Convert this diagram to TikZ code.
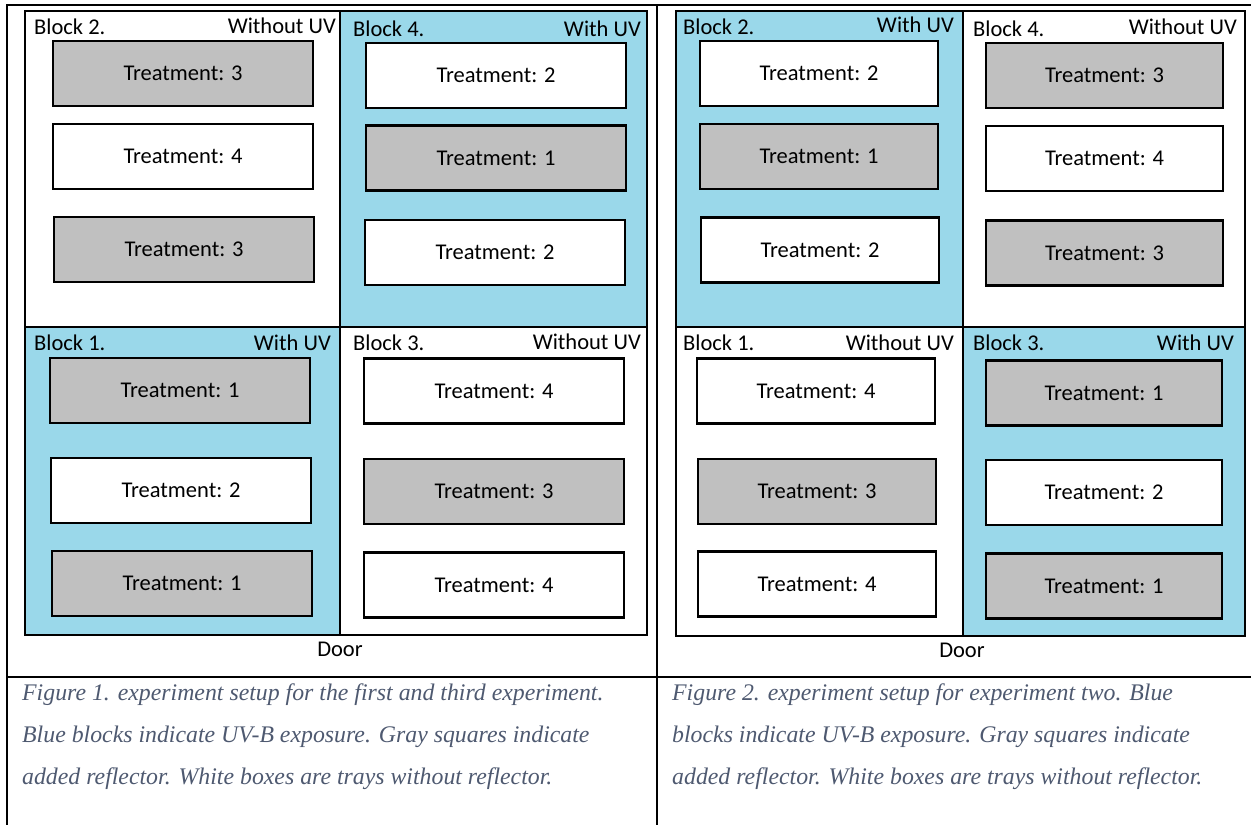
\documentclass[tikz,border=0pt]{standalone}
\usepackage{fontspec}
\setmainfont{Liberation Serif}
\newfontfamily\calib{Carlito}
\usetikzlibrary{positioning}

\definecolor{uvblue}{RGB}{154,216,234}
\definecolor{reflgray}{RGB}{192,192,192}
\definecolor{captxt}{RGB}{78,89,112}

\tikzset{
  uvblock/.style={fill=uvblue},
  frame/.style={line width=2.4pt},
  tray/.style={draw,line width=2.6pt,minimum height=65pt,inner sep=0pt,
    font=\calib\fontsize{22.5}{26}\selectfont},
  refl/.style={tray,fill=reflgray},
  plain/.style={tray,fill=white},
  blk/.style={inner sep=0pt,font=\calib\fontsize{22.5}{26}\selectfont},
  caption/.style={align=left,inner sep=0pt,text=captxt,
    font=\itshape\fontsize{23.8}{42}\selectfont}
}

\begin{document}
\begin{tikzpicture}[x=1pt,y=-1pt]
\useasboundingbox (0,0) rectangle (1251,825);

% table
\draw[line width=1.6pt]
(6,5) -- (1251,5)
(7,5) -- (7,825)
(657,5) -- (657,825)
(7,677) -- (1251,677);

% ---- first setup
\path[uvblock] (340,11) rectangle (647,327);
\path[uvblock] (25,327) rectangle (340,635);
\draw[frame] (25,11) rectangle (647,635);
\draw[frame] (340,11) -- (340,635);
\draw[frame] (25,327) -- (647,327);

\node[blk,anchor=west] (fa-b2) at (34,27) {Block 2.};
\node[blk,anchor=east] (fa-u2) at (336,26) {Without UV};
\node[blk,anchor=west] (fa-b4) at (353,29) {Block 4.};
\node[blk,anchor=east] (fa-u4) at (641,29) {With UV};
\node[blk,anchor=west] (fa-b1) at (34,343) {Block 1.};
\node[blk,anchor=east] (fa-u1) at (331,343) {With UV};
\node[blk,anchor=west] (fa-b3) at (353,343) {Block 3.};
\node[blk,anchor=east] (fa-u3) at (641,342) {Without UV};

\node[refl,minimum width=260pt] (fa-21) at (183,73.5) {Treatment: 3};
\node[plain,minimum width=260pt] (fa-22) at (183,156.5) {Treatment: 4};
\node[refl,minimum width=260pt] (fa-23) at (184,249.5) {Treatment: 3};
\node[plain,minimum width=260pt] (fa-41) at (496,75.5) {Treatment: 2};
\node[refl,minimum width=260pt] (fa-42) at (496,158) {Treatment: 1};
\node[plain,minimum width=260pt] (fa-43) at (495,252.5) {Treatment: 2};
\node[refl,minimum width=260pt] (fa-11) at (180,390.5) {Treatment: 1};
\node[plain,minimum width=260pt] (fa-12) at (181,490.5) {Treatment: 2};
\node[refl,minimum width=260pt] (fa-13) at (182,583.5) {Treatment: 1};
\node[plain,minimum width=260pt] (fa-31) at (494,391) {Treatment: 4};
\node[refl,minimum width=260pt] (fa-32) at (494,491.5) {Treatment: 3};
\node[plain,minimum width=260pt] (fa-33) at (494,585) {Treatment: 4};

\node[blk] (fa-door) at (340,649) {Door};

% ---- second setup
\path[uvblock] (676,11) rectangle (963,327);
\path[uvblock] (963,327) rectangle (1245,636);
\draw[frame] (676,11) rectangle (1245,636);
\draw[frame] (963,11) -- (963,636);
\draw[frame] (676,327) -- (1245,327);

\node[blk,anchor=west] (fb-b2) at (683,27) {Block 2.};
\node[blk,anchor=east] (fb-u2) at (954,25) {With UV};
\node[blk,anchor=west] (fb-b4) at (973,29) {Block 4.};
\node[blk,anchor=east] (fb-u4) at (1237,27) {Without UV};
\node[blk,anchor=west] (fb-b1) at (683,343) {Block 1.};
\node[blk,anchor=east] (fb-u1) at (954,343) {Without UV};
\node[blk,anchor=west] (fb-b3) at (973,343) {Block 3.};
\node[blk,anchor=east] (fb-u3) at (1234,343) {With UV};

\node[plain,minimum width=238pt] (fb-21) at (819,73.5) {Treatment: 2};
\node[refl,minimum width=238pt] (fb-22) at (819,156.5) {Treatment: 1};
\node[plain,minimum width=238pt] (fb-23) at (820,250) {Treatment: 2};
\node[refl,minimum width=237pt] (fb-41) at (1104.5,75.5) {Treatment: 3};
\node[plain,minimum width=237pt] (fb-42) at (1104.5,158.5) {Treatment: 4};
\node[refl,minimum width=237pt] (fb-43) at (1104.5,253) {Treatment: 3};
\node[plain,minimum width=238pt] (fb-11) at (816,391) {Treatment: 4};
\node[refl,minimum width=238pt] (fb-12) at (817,491.5) {Treatment: 3};
\node[plain,minimum width=238pt] (fb-13) at (817,584) {Treatment: 4};
\node[refl,minimum width=236pt] (fb-31) at (1104,393) {Treatment: 1};
\node[plain,minimum width=236pt] (fb-32) at (1104,492.5) {Treatment: 2};
\node[refl,minimum width=236pt] (fb-33) at (1104,586) {Treatment: 1};

\node[blk] (fb-door) at (962,650) {Door};

% captions
\node[caption,anchor=north west] (fa-cap) at (22,684)
{Figure 1. experiment setup for the first and third experiment.\\
Blue blocks indicate UV-B exposure. Gray squares indicate\\
added reflector. White boxes are trays without reflector.};
\node[caption,anchor=north west] (fb-cap) at (672,684)
{Figure 2. experiment setup for experiment two. Blue\\
blocks indicate UV-B exposure. Gray squares indicate\\
added reflector. White boxes are trays without reflector.};
\end{tikzpicture}
\end{document}
